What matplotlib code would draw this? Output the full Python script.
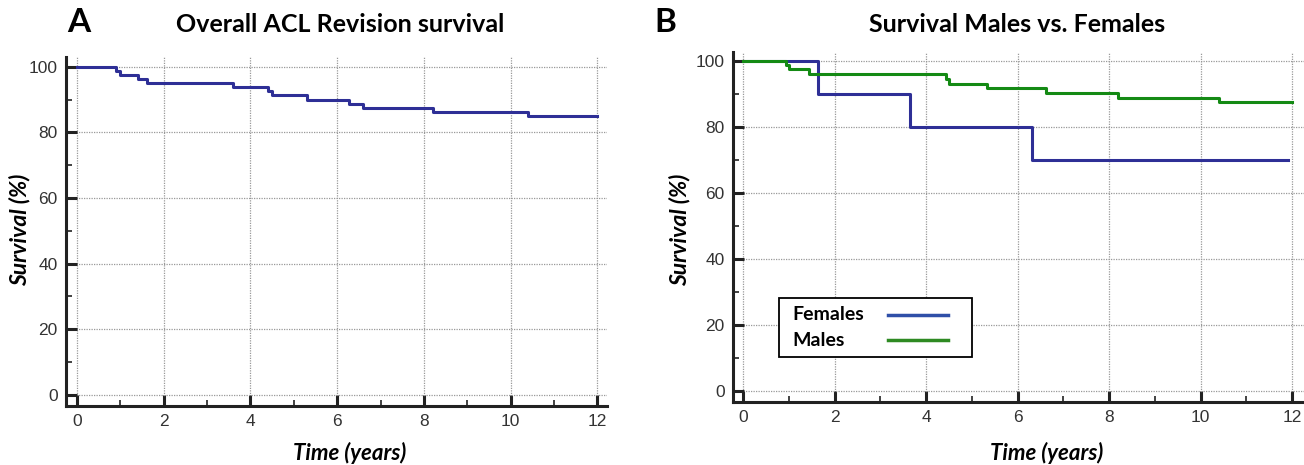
import matplotlib
matplotlib.use("Agg")
import matplotlib.pyplot as plt
from matplotlib.ticker import MultipleLocator
from matplotlib.patches import Rectangle
from matplotlib.lines import Line2D

# panel A - overall survival (Kaplan-Meier steps)
time_all = [0, 0.90, 0.99, 1.42, 1.61, 3.60, 4.41, 4.49, 5.30, 6.28, 6.60, 8.21, 10.40, 12.0]
surv_all = [100, 98.8, 97.6, 96.4, 95.1, 93.9, 92.6, 91.3, 90.0, 88.8, 87.5, 86.3, 85.1, 85.1]

# panel B - males vs females
time_fem = [0, 1.64, 3.65, 6.32, 11.9]
surv_fem = [100, 90, 80, 70, 70]
time_male = [0, 0.94, 1.01, 1.44, 4.44, 4.50, 5.33, 6.62, 8.20, 10.40, 12.0]
surv_male = [100, 98.7, 97.6, 96.0, 94.6, 93.1, 91.8, 90.4, 88.9, 87.5, 87.5]

x_ticks = [0, 2, 4, 6, 8, 10, 12]
y_ticks = [0, 20, 40, 60, 80, 100]
legend_labels = ["Females", "Males"]

BLUE = "#2e2f96"
GREEN = "#148a14"
title_font = "Lato"
tick_font = "Liberation Sans"

W, H = 1304, 465
fig = plt.figure(figsize=(W / 100, H / 100), dpi=100)


def px_axes(x0, y0, x1, y1):
    return fig.add_axes([x0 / W, 1 - y1 / H, (x1 - x0) / W, (y1 - y0) / H])


def style(ax, xlim, ylim, ylab_x, xlab_x):
    ax.set_xlim(*xlim)
    ax.set_ylim(*ylim)
    ax.set_xticks(x_ticks)
    ax.set_yticks(y_ticks)
    ax.xaxis.set_minor_locator(MultipleLocator(1))
    ax.yaxis.set_minor_locator(MultipleLocator(10))
    for s in ["top", "right"]:
        ax.spines[s].set_visible(False)
    for s in ["left", "bottom"]:
        ax.spines[s].set_linewidth(2.2)
        ax.spines[s].set_color("#222222")
    ax.tick_params(which="major", direction="in", length=8, width=2.2, color="#222222",
                   labelsize=12.5, labelcolor="#333333", pad=6)
    ax.tick_params(which="minor", direction="in", length=4, width=1.2, color="#222222")
    for lab in ax.get_xticklabels() + ax.get_yticklabels():
        lab.set_fontfamily(tick_font)
    ax.grid(True, which="major", linestyle=(0, (1, 1)), color="#999999", linewidth=0.9)
    ax.set_axisbelow(True)
    fig.text(xlab_x / W, 1 - 453 / H, "Time (years)", fontfamily=title_font, fontweight="bold",
             fontstyle="italic", fontsize=16, ha="center", va="center")
    fig.text(ylab_x / W, 1 - 230 / H, "Survival (%)", fontfamily=title_font, fontweight="bold",
             fontstyle="italic", fontsize=16.5, ha="center", va="center", rotation=90)


# ---- panel A
axA = px_axes(66, 57, 607, 406)
axA.step(time_all, surv_all, where="post", color=BLUE, linewidth=2.2)
style(axA, (-0.25, 12.22), (-3.4, 103), 20, 350)
fig.text(67 / W, 1 - 23 / H, "A", fontfamily=title_font, fontweight="bold", fontsize=24, va="center")
fig.text(340 / W, 1 - 24 / H, "Overall ACL Revision survival", fontfamily=title_font,
         fontweight="bold", fontsize=18, ha="center", va="center")

# ---- panel B
axB = px_axes(733, 52, 1304, 402)
axB.step(time_fem, surv_fem, where="post", color=BLUE, linewidth=2.2)
axB.step(time_male, surv_male, where="post", color=GREEN, linewidth=2.2)
style(axB, (-0.22, 12.26), (-3.3, 102.7), 680, 1047)
fig.text(654 / W, 1 - 23 / H, "B", fontfamily=title_font, fontweight="bold", fontsize=24, va="center")
fig.text(1017 / W, 1 - 24 / H, "Survival Males vs. Females", fontfamily=title_font,
         fontweight="bold", fontsize=18, ha="center", va="center")

# legend box drawn by hand: text left, line right
fig.patches.append(Rectangle((779 / W, 1 - 357 / H), 193 / W, 59 / H, transform=fig.transFigure,
                             facecolor="white", edgecolor="black", linewidth=1.3, zorder=5))
for i, (lab, col) in enumerate(zip(legend_labels, ["#2f4fa8", "#2e8a22"])):
    yy = 1 - (315 + 25 * i) / H
    fig.text(792 / W, yy, lab, fontfamily=title_font, fontweight="bold", fontsize=14,
             va="center", zorder=6)
    fig.lines.append(Line2D([888 / W, 948 / W], [yy, yy], transform=fig.transFigure,
                            color=col, linewidth=2.5, zorder=6))

fig.savefig("out.png", dpi=100)
